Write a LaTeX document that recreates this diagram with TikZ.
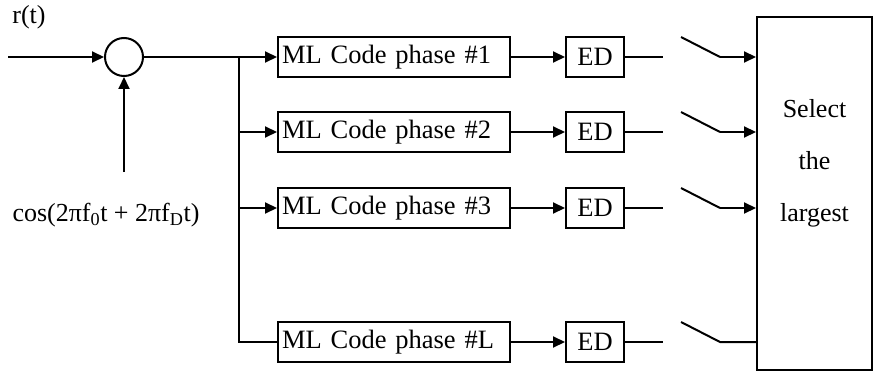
\documentclass[tikz,border=0pt]{standalone}
\usepackage{fontspec}
\setmainfont{Liberation Serif}
\usetikzlibrary{arrows.meta}
\begin{document}
\begin{tikzpicture}[x=1pt,y=-1pt,line width=2pt,
  arr/.style={-{Triangle[length=12pt,width=11pt]}},
  mlbox/.style={draw,minimum width=232pt,minimum height=40pt,inner sep=3pt,text width=224pt,align=left,font=\fontsize{26.5}{30}\selectfont},
  edbox/.style={draw,minimum width=58pt,minimum height=40pt,inner sep=0pt,font=\fontsize{26.5}{30}\selectfont},
  lbl/.style={font=\fontsize{26}{30}\selectfont,inner sep=0pt}]
\useasboundingbox (0,0) rectangle (882,385);
% input
\node[lbl] (rt) at (29,17) {r(t)};
\coordinate (in) at (8,57);
\node[draw,circle,minimum size=38pt,inner sep=0pt] (mix) at (124,57) {};
\draw[arr] (in) -- (mix.west);
\node[lbl] (cos) at (106,215) {cos(2πf\textsubscript{0}t + 2πf\textsubscript{D}t)};
\coordinate (lo) at (124,172);
\draw[arr] (lo) -- (mix.south);
% boxes
\node[mlbox] (ml1) at (394,57) {ML Code phase \#1};
\node[mlbox] (ml2) at (394,132) {ML Code phase \#2};
\node[mlbox] (ml3) at (394,208) {ML Code phase \#3};
\node[mlbox] (mlL) at (394,342) {ML Code phase \#L};
\node[edbox] (ed1) at (595,57) {ED};
\node[edbox] (ed2) at (595,132) {ED};
\node[edbox] (ed3) at (595,208) {ED};
\node[edbox] (edL) at (595,342) {ED};
\node[draw,minimum width=115pt,minimum height=353pt,inner sep=0pt] (sel) at (814.5,193.5) {};
\node[lbl,align=center,font=\fontsize{26}{52}\selectfont] (seltxt) at (814.5,163) {Select\\the\\largest};
% distribution
\coordinate (br) at (239,57);
\draw (mix.east) -- (br);
\draw[arr] (br) -- (ml1.west);
\draw (br) -- (239,342) -- (mlL.west);
\draw[arr] (239,132) -- (ml2.west);
\draw[arr] (239,208) -- (ml3.west);
% ML to ED
\draw[arr] (ml1.east) -- (ed1.west);
\draw[arr] (ml2.east) -- (ed2.west);
\draw[arr] (ml3.east) -- (ed3.west);
\draw[arr] (mlL.east) -- (edL.west);
% switches
\foreach \r/\y in {1/57,2/132,3/208}{
  \coordinate (a\r) at (663,\y);
  \coordinate (s\r) at (681,\y-20);
  \coordinate (t\r) at (720,\y);
  \draw (ed\r.east) -- (a\r);
  \draw (s\r) -- (t\r);
  \draw[arr] (t\r) -- (sel.west |- t\r);
}
\coordinate (aL) at (663,342);
\coordinate (sL) at (681,322);
\coordinate (tL) at (720,342);
\draw (edL.east) -- (aL);
\draw (sL) -- (tL) -- (sel.west |- tL);
\end{tikzpicture}
\end{document}
